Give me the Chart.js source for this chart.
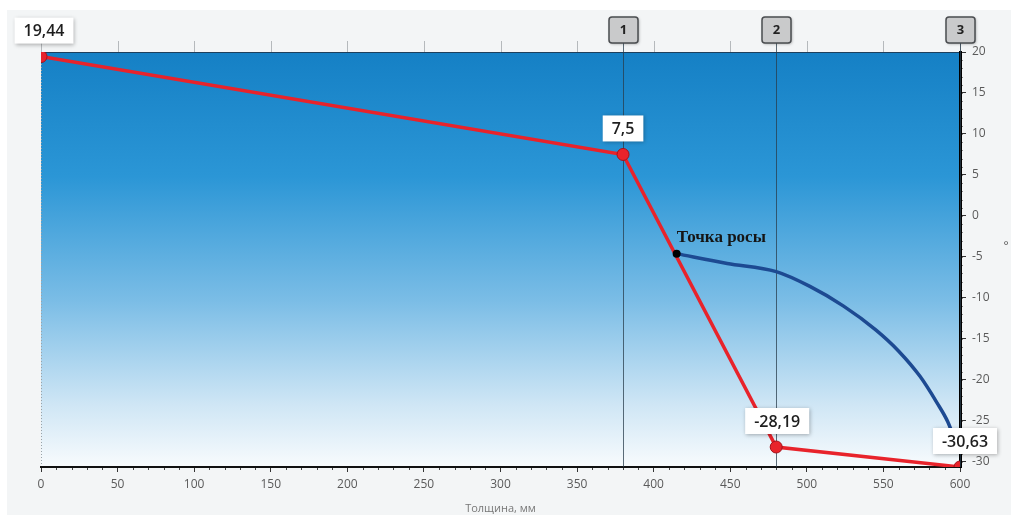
<!DOCTYPE html>
<html lang="ru">
<head>
  <meta charset="UTF-8" />
  <title>Распределение температуры</title>
  <script src="https://cdn.jsdelivr.net/npm/chart.js"></script>
  <style>
    body { margin: 0; padding: 0; background: #fff; }
    canvas { display: block; }
  </style>
</head>
<body>
  <canvas id="plot" width="1011" height="515"></canvas>
  <script>
    // temperature through the wall
    const tempX = [0, 380, 480, 600];
    const tempY = [19.44, 7.5, -28.19, -30.63];
    // dew point curve
    const dewX = [415, 448, 480, 502, 524, 545, 560, 574, 585, 592, 595];
    const dewY = [-4.6, -5.8, -6.8, -8.6, -11.0, -13.9, -16.5, -19.6, -22.8, -25.1, -26.5];
    const dewLabel = "Точка росы";
    // layer borders
    const markerX = [380, 480, 600];
    const markerLabels = ["1", "2", "3"];
    const yTicks = [20, 15, 10, 5, 0, -5, -10, -15, -20, -25, -30];
    const xTitle = "Толщина, мм";
    const yTitle = "°";

    const W = 1011, H = 515;
    const fmt = v => String(v).replace(".", ",");

    function roundRect(ctx, x, y, w, h, r) {
      ctx.beginPath();
      ctx.moveTo(x + r, y);
      ctx.arcTo(x + w, y, x + w, y + h, r);
      ctx.arcTo(x + w, y + h, x, y + h, r);
      ctx.arcTo(x, y + h, x, y, r);
      ctx.arcTo(x, y, x + w, y, r);
      ctx.closePath();
    }

    const decor = {
      id: "decor",
      beforeDraw(chart) {
        const { ctx, chartArea: a, scales: { x, y } } = chart;
        ctx.save();
        ctx.fillStyle = "#fff";
        ctx.fillRect(0, 0, W, H);
        ctx.fillStyle = "#f3f5f6";
        ctx.fillRect(7, 10, W - 7, H - 10);
        const g = ctx.createLinearGradient(0, a.top, 0, a.bottom);
        g.addColorStop(0, "#1580c5");
        g.addColorStop(0.3, "#2b96d6");
        g.addColorStop(0.6, "#7bbde6");
        g.addColorStop(0.85, "#cfe6f5");
        g.addColorStop(1, "#f8fbfd");
        ctx.fillStyle = g;
        ctx.fillRect(a.left, a.top, a.right - a.left, a.bottom - a.top);
        // top edge
        ctx.strokeStyle = "#1d3f5c";
        ctx.lineWidth = 1;
        ctx.beginPath();
        ctx.moveTo(a.left, a.top + 0.5);
        ctx.lineTo(a.right, a.top + 0.5);
        ctx.stroke();
        // top ticks
        ctx.strokeStyle = "#b5b9bc";
        for (let v = 0; v <= 600; v += 50) {
          const px = Math.round(x.getPixelForValue(v)) + 0.5;
          ctx.beginPath();
          ctx.moveTo(px, a.top - 11);
          ctx.lineTo(px, a.top);
          ctx.stroke();
        }
        // minor ticks on x
        ctx.strokeStyle = "#444";
        for (let v = 10; v < 600; v += 10) {
          if (v % 50 === 0) continue;
          const px = Math.round(x.getPixelForValue(v)) + 0.5;
          ctx.beginPath();
          ctx.moveTo(px, a.bottom);
          ctx.lineTo(px, a.bottom + 3);
          ctx.stroke();
        }
        // minor ticks on y
        ctx.strokeStyle = "#888";
        for (let v = -30; v <= 20; v += 1) {
          const py = Math.round(y.getPixelForValue(v)) + 0.5;
          ctx.beginPath();
          ctx.moveTo(a.right, py);
          ctx.lineTo(a.right + 3, py);
          ctx.stroke();
        }
        // left dotted edge
        ctx.strokeStyle = "#9aa3a8";
        ctx.setLineDash([1, 2]);
        ctx.beginPath();
        ctx.moveTo(a.left + 0.5, a.top);
        ctx.lineTo(a.left + 0.5, a.bottom);
        ctx.stroke();
        ctx.setLineDash([]);
        ctx.restore();
      },
      beforeDatasetsDraw(chart) {
        const { ctx, chartArea: a, scales: { x } } = chart;
        ctx.save();
        markerX.forEach((v, i) => {
          const px = Math.round(x.getPixelForValue(v)) + 0.5;
          ctx.strokeStyle = "rgba(40,60,75,0.75)";
          ctx.lineWidth = 1;
          ctx.beginPath();
          ctx.moveTo(px, 43);
          ctx.lineTo(px, a.bottom);
          ctx.stroke();
        });
        ctx.restore();
      },
      afterDatasetsDraw(chart) {
        const { ctx, scales: { x, y } } = chart;
        ctx.save();
        // layer boxes
        markerX.forEach((v, i) => {
          const px = Math.round(x.getPixelForValue(v));
          ctx.shadowColor = "rgba(0,0,0,0.35)";
          ctx.shadowBlur = 3;
          ctx.shadowOffsetX = 1;
          ctx.shadowOffsetY = 1;
          roundRect(ctx, px - 14, 17, 29, 26, 3);
          ctx.fillStyle = "#c9cacb";
          ctx.fill();
          ctx.shadowColor = "transparent";
          ctx.strokeStyle = "#4a4d50";
          ctx.lineWidth = 1.5;
          ctx.stroke();
          ctx.fillStyle = "#222";
          ctx.font = "bold 13px 'Open Sans'";
          ctx.textAlign = "center";
          ctx.textBaseline = "middle";
          ctx.fillText(markerLabels[i], px + 0.5, 30);
        });
        // value labels
        const shift = [3, 0, 1, 5];
        ctx.font = "600 16px 'Open Sans'";
        tempX.forEach((v, i) => {
          const px = x.getPixelForValue(v) + shift[i];
          const py = y.getPixelForValue(tempY[i]) - 26;
          const txt = fmt(tempY[i]);
          const w = ctx.measureText(txt).width + 18;
          ctx.shadowColor = "rgba(0,0,0,0.3)";
          ctx.shadowBlur = 4;
          ctx.shadowOffsetX = 1;
          ctx.shadowOffsetY = 1;
          ctx.fillStyle = "#fff";
          ctx.fillRect(px - w / 2, py - 13, w, 26);
          ctx.shadowColor = "transparent";
          ctx.fillStyle = "#1e1e1e";
          ctx.textAlign = "center";
          ctx.textBaseline = "middle";
          ctx.fillText(txt, px, py + 1);
        });
        // dew point label
        ctx.font = "bold 17px 'Liberation Serif'";
        ctx.fillStyle = "#151515";
        ctx.textAlign = "left";
        ctx.textBaseline = "alphabetic";
        ctx.fillText(dewLabel, x.getPixelForValue(dewX[0]), y.getPixelForValue(dewY[0]) - 12);
        // y title
        ctx.font = "12px 'Open Sans'";
        ctx.fillStyle = "#555";
        ctx.textAlign = "center";
        ctx.fillText(yTitle, 1006, 250);
        ctx.restore();
      }
    };

    new Chart(document.getElementById("plot").getContext("2d"), {
      type: "line",
      data: {
        datasets: [
          {
            label: "dew",
            data: [{ x: dewX[0], y: dewY[0] }],
            showLine: false,
            pointRadius: 4,
            pointBackgroundColor: "#000",
            pointBorderColor: "#000",
            pointBorderWidth: 0
          },
          {
            label: "t",
            data: tempX.map((v, i) => ({ x: v, y: tempY[i] })),
            borderColor: "#e8232b",
            borderWidth: 3.5,
            pointRadius: 6,
            pointBackgroundColor: "#e8232b",
            pointBorderColor: "#a5111a",
            pointBorderWidth: 1,
            clip: 0,
            tension: 0
          },
          {
            label: "dewCurve",
            data: dewX.map((v, i) => ({ x: v, y: dewY[i] })),
            borderColor: "#1d4a92",
            borderWidth: 3.5,
            pointRadius: 0,
            cubicInterpolationMode: "monotone"
          }
        ]
      },
      options: {
        responsive: false,
        animation: false,
        devicePixelRatio: 1,
        layout: { padding: { left: 41, top: 52, right: 0, bottom: 0 } },
        plugins: { legend: { display: false }, tooltip: { enabled: false } },
        scales: {
          x: {
            type: "linear",
            position: "bottom",
            min: 0,
            max: 600,
            ticks: { stepSize: 50, color: "#5a5a5a", font: { family: "Open Sans", size: 12 }, padding: 5, maxRotation: 0 },
            grid: { drawOnChartArea: false, drawTicks: true, tickLength: 5, color: "#333" },
            border: { display: true, color: "#111", width: 2 },
            title: { display: true, text: xTitle, color: "#777", font: { family: "Open Sans", size: 11 }, padding: { top: 2, bottom: 0 } },
            afterFit: s => { s.height = 48; }
          },
          y: {
            type: "linear",
            position: "right",
            min: -30.63,
            max: 20,
            afterBuildTicks: s => { s.ticks = yTicks.map(v => ({ value: v })); },
            ticks: { color: "#5a5a5a", font: { family: "Open Sans", size: 12 }, padding: 6 },
            grid: { drawOnChartArea: false, drawTicks: true, tickLength: 6, color: "#333" },
            border: { display: true, color: "#000", width: 3 },
            afterFit: s => { s.width = 51; }
          }
        }
      },
      plugins: [decor]
    });
  </script>
</body>
</html>
